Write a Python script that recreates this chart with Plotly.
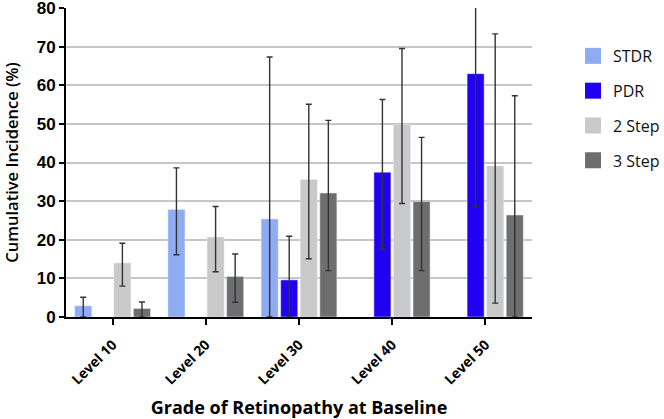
import plotly.graph_objects as go

categories = ["Level 10", "Level 20", "Level 30", "Level 40", "Level 50"]
series_names = ["STDR", "PDR", "2 Step", "3 Step"]

stdr = [2.9, 27.8, 25.4, None, None]
stdr_hi = [5.1, 38.6, 67.3, None, None]
stdr_lo = [0.0, 16.1, 0.0, None, None]

pdr = [None, None, 9.6, 37.5, 63.0]
pdr_hi = [None, None, 20.9, 56.3, 86.0]
pdr_lo = [None, None, 0.0, 17.6, 28.6]

step2 = [14.0, 20.7, 35.6, 49.8, 39.1]
step2_hi = [19.1, 28.6, 55.1, 69.5, 73.3]
step2_lo = [8.0, 11.7, 15.1, 29.4, 3.6]

step3 = [2.2, 10.5, 32.1, 29.9, 26.4]
step3_hi = [3.9, 16.3, 50.9, 46.5, 57.3]
step3_lo = [0.0, 3.8, 12.0, 12.0, 0.0]

colors = ["#8FABF2", "#2200F2", "#C9C9C9", "#6E6E6E"]

values = [stdr, pdr, step2, step3]
highs = [stdr_hi, pdr_hi, step2_hi, step3_hi]
lows = [stdr_lo, pdr_lo, step2_lo, step3_lo]


def plus(v, h):
    return [None if a is None else b - a for a, b in zip(v, h)]


def minus(v, l):
    return [None if a is None else a - b for a, b in zip(v, l)]


fig = go.Figure()
for name, v, h, l, c in zip(series_names, values, highs, lows, colors):
    fig.add_trace(go.Bar(
        x=categories, y=v, name=name, marker_color=c, showlegend=False,
        error_y=dict(type="data", symmetric=False, array=plus(v, h),
                     arrayminus=minus(v, l), color="#333333",
                     thickness=1.4, width=3),
    ))

for name, c in zip(series_names, colors):
    fig.add_trace(go.Scatter(
        x=[None], y=[None], mode="markers", name=name, legendgroup=name,
        marker=dict(symbol="square", size=20, color=c,
                    line=dict(width=0)),
    ))

fig.update_layout(
    width=664, height=419,
    margin=dict(l=66, r=132, t=8, b=102, autoexpand=False),
    paper_bgcolor="white", plot_bgcolor="white",
    barmode="group", bargap=0.16, bargroupgap=0.13,
    font=dict(family="Open Sans", color="black"),
    legend=dict(xref="container", yref="container",
                x=0.863, y=0.907, xanchor="left", yanchor="top",
                traceorder="grouped", tracegroupgap=11,
                font=dict(family="Open Sans", size=16, color="#111111"),
                itemsizing="trace"),
    xaxis=dict(
        automargin=False,
        showline=True, linecolor="black", linewidth=2,
        ticks="outside", ticklen=6, tickwidth=2, tickcolor="black",
        tickangle=-45, ticklabelstandoff=6,
        tickfont=dict(family="Open Sans", size=14, weight="bold",
                      color="black"),
        title=dict(text="Grade of Retinopathy at Baseline",
                   font=dict(family="Open Sans", size=18, weight="bold"),
                   standoff=18),
    ),
    yaxis=dict(
        automargin=False,
        range=[0, 80], dtick=10,
        showline=True, linecolor="black", linewidth=2,
        ticks="outside", ticklen=5, tickwidth=2, tickcolor="black",
        ticklabeloverflow="allow",
        showgrid=True, gridcolor="#C6C6C6", gridwidth=1.5,
        zeroline=False,
        tickfont=dict(family="Liberation Sans", size=17, weight="bold",
                      color="black"),
        title=dict(text="Cumulative Incidence (%)",
                   font=dict(family="Open Sans", size=16.5, weight=600),
                   standoff=16),
    ),
)

fig.write_html("out.html", config={"displayModeBar": False},
               post_script="document.body.style.margin='0';")
